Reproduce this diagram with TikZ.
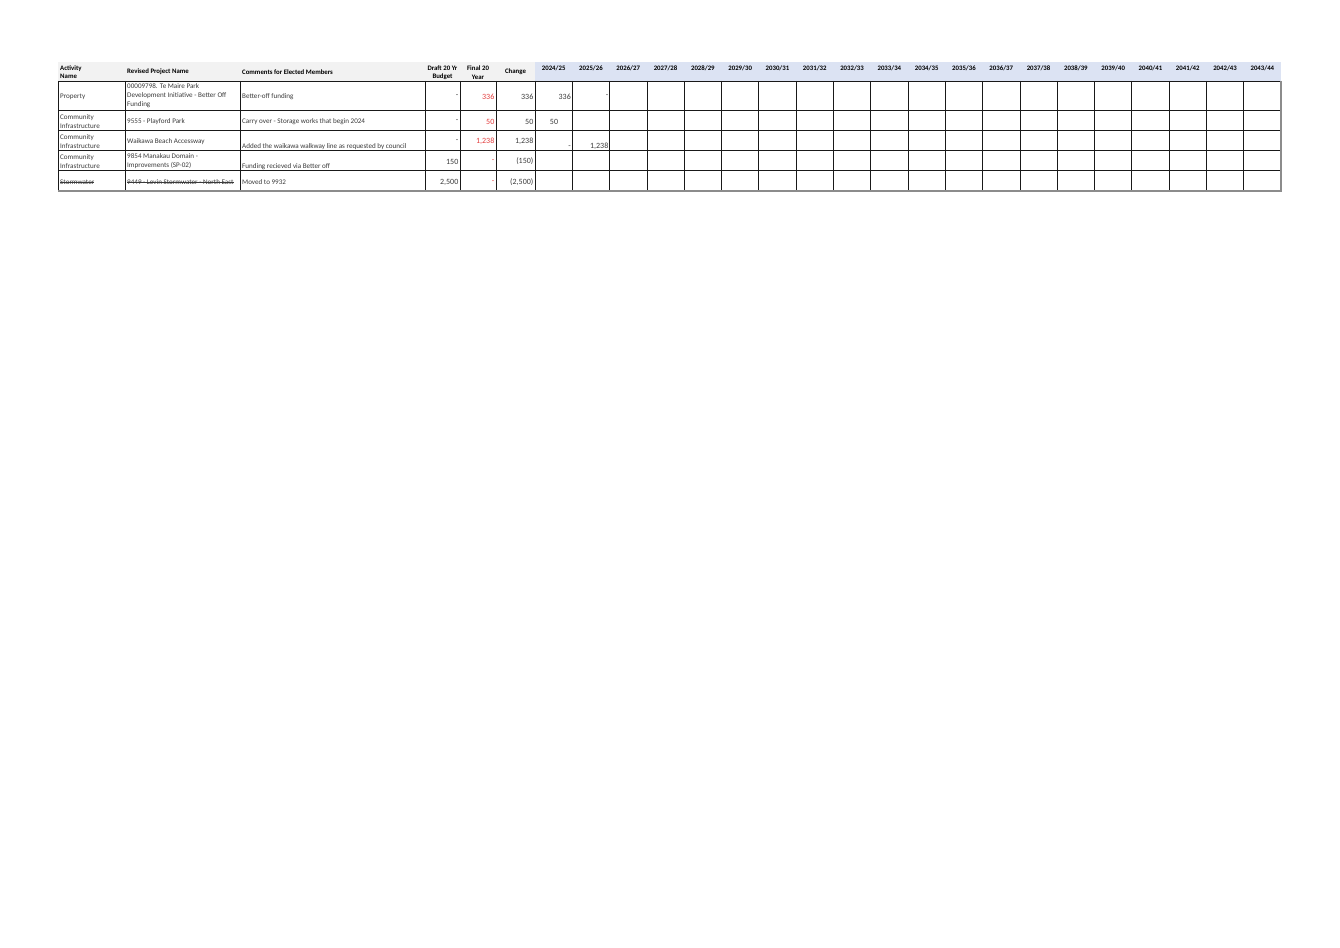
\documentclass[tikz,border=0pt]{standalone}
\usepackage{fontspec}
\setmainfont{Carlito}
\definecolor{txtgray}{HTML}{3A3A3A}
\definecolor{hdrgray}{HTML}{F2F2F2}
\definecolor{hdrblue}{HTML}{DCE3F3}
\definecolor{numred}{HTML}{E23B3B}
\definecolor{edgegray}{HTML}{8C8C8C}
\begin{document}
\begin{tikzpicture}[x=1pt,y=-1pt,
    txt/.style={text=txtgray,inner sep=0pt,anchor=west,align=left,font=\fontsize{7.1}{9}\selectfont},
    num/.style={text=txtgray,inner sep=0pt,anchor=east,font=\fontsize{8}{9}\selectfont},
    red/.style={num,text=numred},
    hdr/.style={inner sep=0pt,align=center,font=\bfseries\fontsize{6.8}{8.5}\selectfont},
    grid/.style={line width=0.8pt,black!90}]
        \useasboundingbox (0,0) rectangle (1340,947);
        \fill[hdrgray] (58,62) rectangle (535,81);
        \fill[hdrblue] (535,62) rectangle (1281,81);
        \draw[grid] (58,81) -- (1281,81);
        \foreach \y in {110,130,150,170} \draw[grid] (58,\y) -- (1281,\y);
        \foreach \x in {58,125,240,425,460,496,535} \draw[grid] (\x,81) -- (\x,191);
        \foreach \i in {1,...,19} \draw[grid] ({535+\i*37.3},81) -- ({535+\i*37.3},191);
        \draw[line width=1.2pt,edgegray] (58,191) -- (1281.6,191);
        \draw[line width=1.2pt,edgegray] (1281,81) -- (1281,191);
        \node[hdr,anchor=west,align=left] (hact) at (60,72) {Activity\\Name};
        \node[hdr,anchor=west] (hproj) at (127,72) {Revised Project Name};
        \node[hdr,anchor=west] (hcomm) at (242,72) {Comments for Elected Members};
        \node[hdr] (hdraft) at (442.5,72.5) {Draft 20 Yr\\Budget};
        \node[hdr] (hfinal) at (478,72.5) {Final 20\\Year};
        \node[hdr] (hchange) at (515.5,72) {Change};
        \foreach \i in {0,...,19} {
            \pgfmathtruncatemacro\ya{2024+\i}
            \pgfmathtruncatemacro\yb{25+\i}
            \node[hdr] (yr\i) at ({553.65+\i*37.3},68) {\ya/\yb};
        }
        \node[txt] (act1) at (60,96.5) {Property};
        \node[txt] (proj1) at (127,96) {00009798. Te Maire Park\\Development Initiative - Better Off\\Funding};
        \node[txt] (comm1) at (242,96.5) {Better-off funding};
        \node[num] (draft1) at (458.5,96.5) {-};
        \node[red] (final1) at (494.5,96.5) {336};
        \node[num] (change1) at (533.5,96.5) {336};
        \node[num] (yra1) at (571,96.5) {336};
        \node[num] (yrb1) at (608.5,96.5) {-};
        \node[txt] (act2) at (60,121.5) {Community\\Infrastructure};
        \node[txt] (proj2) at (127,121.5) {9555 - Playford Park};
        \node[txt] (comm2) at (242,121.5) {Carry over - Storage works that begin 2024};
        \node[num] (draft2) at (458.5,121.5) {-};
        \node[red] (final2) at (494.5,121.5) {50};
        \node[num] (change2) at (533.5,121.5) {50};
        \node[num,anchor=center] (yra2) at (554,121.5) {50};
        \node[txt] (act3) at (60,141.5) {Community\\Infrastructure};
        \node[txt] (proj3) at (127,141.5) {Waikawa Beach Accessway};
        \node[txt] (comm3) at (242,146.5) {Added the waikawa walkway line as requested by council};
        \node[num] (draft3) at (458.5,141.5) {-};
        \node[red] (final3) at (494.5,141.5) {1,238};
        \node[num] (change3) at (533.5,141.5) {1,238};
        \node[num] (yra3) at (571,147) {-};
        \node[num] (yrb3) at (608.5,146.5) {1,238};
        \node[txt] (act4) at (60,161.5) {Community\\Infrastructure};
        \node[txt] (proj4) at (127,161.5) {9854 Manakau Domain -\\Improvements (SP-02)};
        \node[txt] (comm4) at (242,166.5) {Funding recieved via Better off};
        \node[num] (draft4) at (458.5,161.5) {150};
        \node[red] (final4) at (494.5,161.5) {-};
        \node[num] (change4) at (533.5,161.5) {(150)};
        \node[txt] (act5) at (60,182) {Stormwater};
        \node[txt] (proj5) at (127,182) {9449 - Levin Stormwater - North East};
        \node[txt] (comm5) at (242,182) {Moved to 9932};
        \node[num] (draft5) at (458.5,182) {2,500};
        \node[red] (final5) at (494.5,182) {-};
        \node[num] (change5) at (533.5,182) {(2,500)};
        \draw[txtgray,line width=0.4pt] (act5.west) -- (act5.east);
        \draw[txtgray,line width=0.4pt] (proj5.west) -- (proj5.east);
    \end{tikzpicture}
\end{document}
